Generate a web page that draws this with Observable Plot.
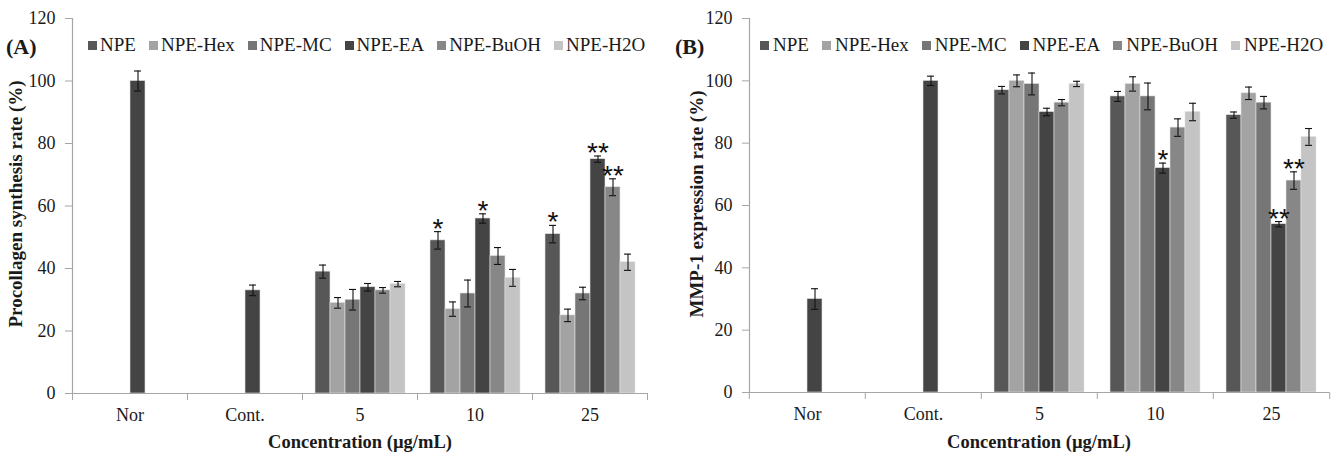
<!DOCTYPE html>
<html>
<head>
<meta charset="utf-8">
<script src="https://cdn.jsdelivr.net/npm/d3@7"></script>
<script src="https://cdn.jsdelivr.net/npm/@observablehq/plot@0.6"></script>
<style>
  html, body { margin: 0; padding: 0; background: #ffffff; }
  #wrap { position: relative; width: 1335px; height: 453px; overflow: hidden; font-family: "Liberation Serif", "Times New Roman", serif; color: #1a1a1a; }
  .panel { position: absolute; top: 0; }
  .tag { position: absolute; font-weight: bold; font-size: 22px; line-height: 26px; }
  .legend { position: absolute; top: 33px; display: flex; align-items: center; font-size: 19px; line-height: 24px; white-space: nowrap; }
  .legend .item { display: flex; align-items: center; }
  .legend .sw { display: inline-block; width: 9px; height: 9px; }
  .ytitle { position: absolute; font-weight: bold; font-size: 19px; white-space: nowrap; transform: translate(-50%, -50%) rotate(-90deg); }
  .xtitle { position: absolute; font-weight: bold; font-size: 18.5px; white-space: nowrap; transform: translate(-50%, -50%); }
</style>
</head>
<body>
<div id="wrap">
  <div id="panelA" class="panel" style="left:0px"></div>
  <div id="panelB" class="panel" style="left:667px"></div>
</div>
<script>
// ---------- data ----------
const categories = ["Nor", "Cont.", "5", "10", "25"];
const controlCategories = ["Nor", "Cont."];
const doses = ["5", "10", "25"];
const seriesNames = ["NPE", "NPE-Hex", "NPE-MC", "NPE-EA", "NPE-BuOH", "NPE-H2O"];
const controlSlot = "NPE-EA";
const yTicks = [0, 20, 40, 60, 80, 100, 120];

// (A) Procollagen synthesis rate (%)
const procControls = [100, 33];
const procControlErr = [3.2, 1.7];
const proc5 = [39, 29, 30, 34, 33, 35];
const proc10 = [49, 27, 32, 56, 44, 37];
const proc25 = [51, 25, 32, 75, 66, 42];
const procErr5 = [2.1, 1.7, 3.3, 1.2, 0.9, 0.85];
const procErr10 = [2.8, 2.3, 4.3, 1.5, 2.7, 2.7];
const procErr25 = [2.8, 2.0, 2.0, 1.0, 2.7, 2.6];
const procStars = [["10", "NPE", "*"], ["10", "NPE-EA", "*"], ["25", "NPE", "*"], ["25", "NPE-EA", "**"], ["25", "NPE-BuOH", "**"]];

// (B) MMP-1 expression rate (%)
const mmpControls = [30, 100];
const mmpControlErr = [3.3, 1.5];
const mmp5 = [97, 100, 99, 90, 93, 99];
const mmp10 = [95, 99, 95, 72, 85, 90];
const mmp25 = [89, 96, 93, 54, 68, 82];
const mmpErr5 = [1.2, 1.9, 3.5, 1.2, 1.0, 0.85];
const mmpErr10 = [1.6, 2.3, 4.3, 1.6, 2.8, 2.8];
const mmpErr25 = [1.0, 2.0, 2.0, 0.85, 2.8, 2.7];
const mmpStars = [["10", "NPE-EA", "*"], ["25", "NPE-EA", "**"], ["25", "NPE-BuOH", "**"]];

// ---------- style ----------
const seriesColors = ["#575757", "#a3a3a3", "#767676", "#444444", "#878787", "#c4c4c4"];
const axisGray = "#a6a6a6";

function buildRows(controls, controlErr, means, errs) {
  const rows = [];
  controlCategories.forEach((c, i) => rows.push({cat: c, series: controlSlot, value: controls[i], err: controlErr[i]}));
  doses.forEach((d, j) => seriesNames.forEach((s, i) => rows.push({cat: d, series: s, value: means[j][i], err: errs[j][i]})));
  return rows;
}

function panel({rows, stars, width, ml, mr, mb}) {
  const starRows = stars.map(([cat, s, t]) => {
    const r = rows.find(d => d.cat === cat && d.series === s);
    return {...r, text: t};
  });
  const bw = (width - ml - mr) / categories.length;
  return Plot.plot({
    width, height: 453,
    marginLeft: ml, marginRight: mr, marginTop: 18, marginBottom: mb,
    style: {fontFamily: "'Liberation Serif', 'Times New Roman', serif", fontSize: "18px", color: "#1a1a1a", background: "transparent", overflow: "visible"},
    fx: {domain: categories, padding: 0, label: null},
    x: {domain: seriesNames, paddingInner: 0, paddingOuter: 0.75, axis: null},
    y: {domain: [0, 120], label: null},
    color: {domain: seriesNames, range: seriesColors},
    marks: [
      Plot.barY(rows, {fx: "cat", x: "series", y: "value", fill: "series", stroke: "#e4e4e4", strokeWidth: 0.6}),
      Plot.ruleX(rows, {fx: "cat", x: "series", y1: d => d.value - d.err, y2: d => d.value + d.err, stroke: "#111", strokeWidth: 1.1}),
      Plot.tickY(rows, {fx: "cat", x: "series", y: d => d.value + d.err, insetLeft: 4, insetRight: 4, stroke: "#111", strokeWidth: 1.1}),
      Plot.tickY(rows, {fx: "cat", x: "series", y: d => d.value - d.err, insetLeft: 4, insetRight: 4, stroke: "#111", strokeWidth: 1.1}),
      Plot.text(starRows, {fx: "cat", x: "series", y: d => d.value + d.err, text: "text", lineAnchor: "bottom", dy: 6, fontSize: 28, fontFamily: "'Liberation Sans', Arial, sans-serif", fill: "#111"}),
      Plot.ruleY([0], {stroke: axisGray, strokeWidth: 1.2}),
      Plot.frame({anchor: "left", facetAnchor: "left", stroke: axisGray, strokeWidth: 1.2}),
      Plot.axisY({ticks: yTicks, tickSize: 7, tickPadding: 10, stroke: axisGray, label: null}),
      Plot.axisFx({anchor: "bottom", tickSize: 0, tickPadding: 15, label: null}),
      Plot.axisFx({anchor: "bottom", tickSize: 7, tickFormat: () => "", dx: -bw / 2, stroke: axisGray, label: null}),
      Plot.axisFx({anchor: "bottom", ticks: [categories[categories.length - 1]], tickSize: 7, tickFormat: () => "", dx: bw / 2, stroke: axisGray, label: null})
    ]
  });
}

const rowsA = buildRows(procControls, procControlErr, [proc5, proc10, proc25], [procErr5, procErr10, procErr25]);
const rowsB = buildRows(mmpControls, mmpControlErr, [mmp5, mmp10, mmp25], [mmpErr5, mmpErr10, mmpErr25]);

document.getElementById("panelA").append(panel({rows: rowsA, stars: procStars, width: 667, ml: 72, mr: 20, mb: 60}));
document.getElementById("panelB").append(panel({rows: rowsB, stars: mmpStars, width: 668, ml: 81, mr: 5, mb: 61}));

// ---------- overlays: tags, legends, axis titles ----------
const wrap = document.getElementById("wrap");
function addDiv(cls, text, styleText) {
  const el = document.createElement("div");
  el.className = cls;
  if (text != null) el.textContent = text;
  el.setAttribute("style", styleText);
  wrap.append(el);
  return el;
}
addDiv("tag", "(A)", "left:6px;top:34px;");
addDiv("tag", "(B)", "left:675px;top:34px;");

function addLegend(left, swGap, itemGap) {
  const lg = addDiv("legend", null, `left:${left}px;`);
  seriesNames.forEach((s, i) => {
    const it = document.createElement("span");
    it.className = "item";
    it.style.marginRight = itemGap + "px";
    const sw = document.createElement("span");
    sw.className = "sw";
    sw.style.background = seriesColors[i];
    sw.style.marginRight = swGap + "px";
    const tx = document.createElement("span");
    tx.textContent = s;
    it.append(sw, tx);
    lg.append(it);
  });
}
addLegend(88, 3, 13);
addLegend(760, 4, 13);

addDiv("ytitle", "Procollagen synthesis rate (%)", "left:16px;top:204px;");
addDiv("ytitle", "MMP-1 expression rate (%)", "left:697px;top:204px;");
addDiv("xtitle", "Concentration (\u00b5g/mL)", "left:360px;top:442px;");
addDiv("xtitle", "Concentration (\u00b5g/mL)", "left:1039px;top:442px;");
</script>
</body>
</html>
